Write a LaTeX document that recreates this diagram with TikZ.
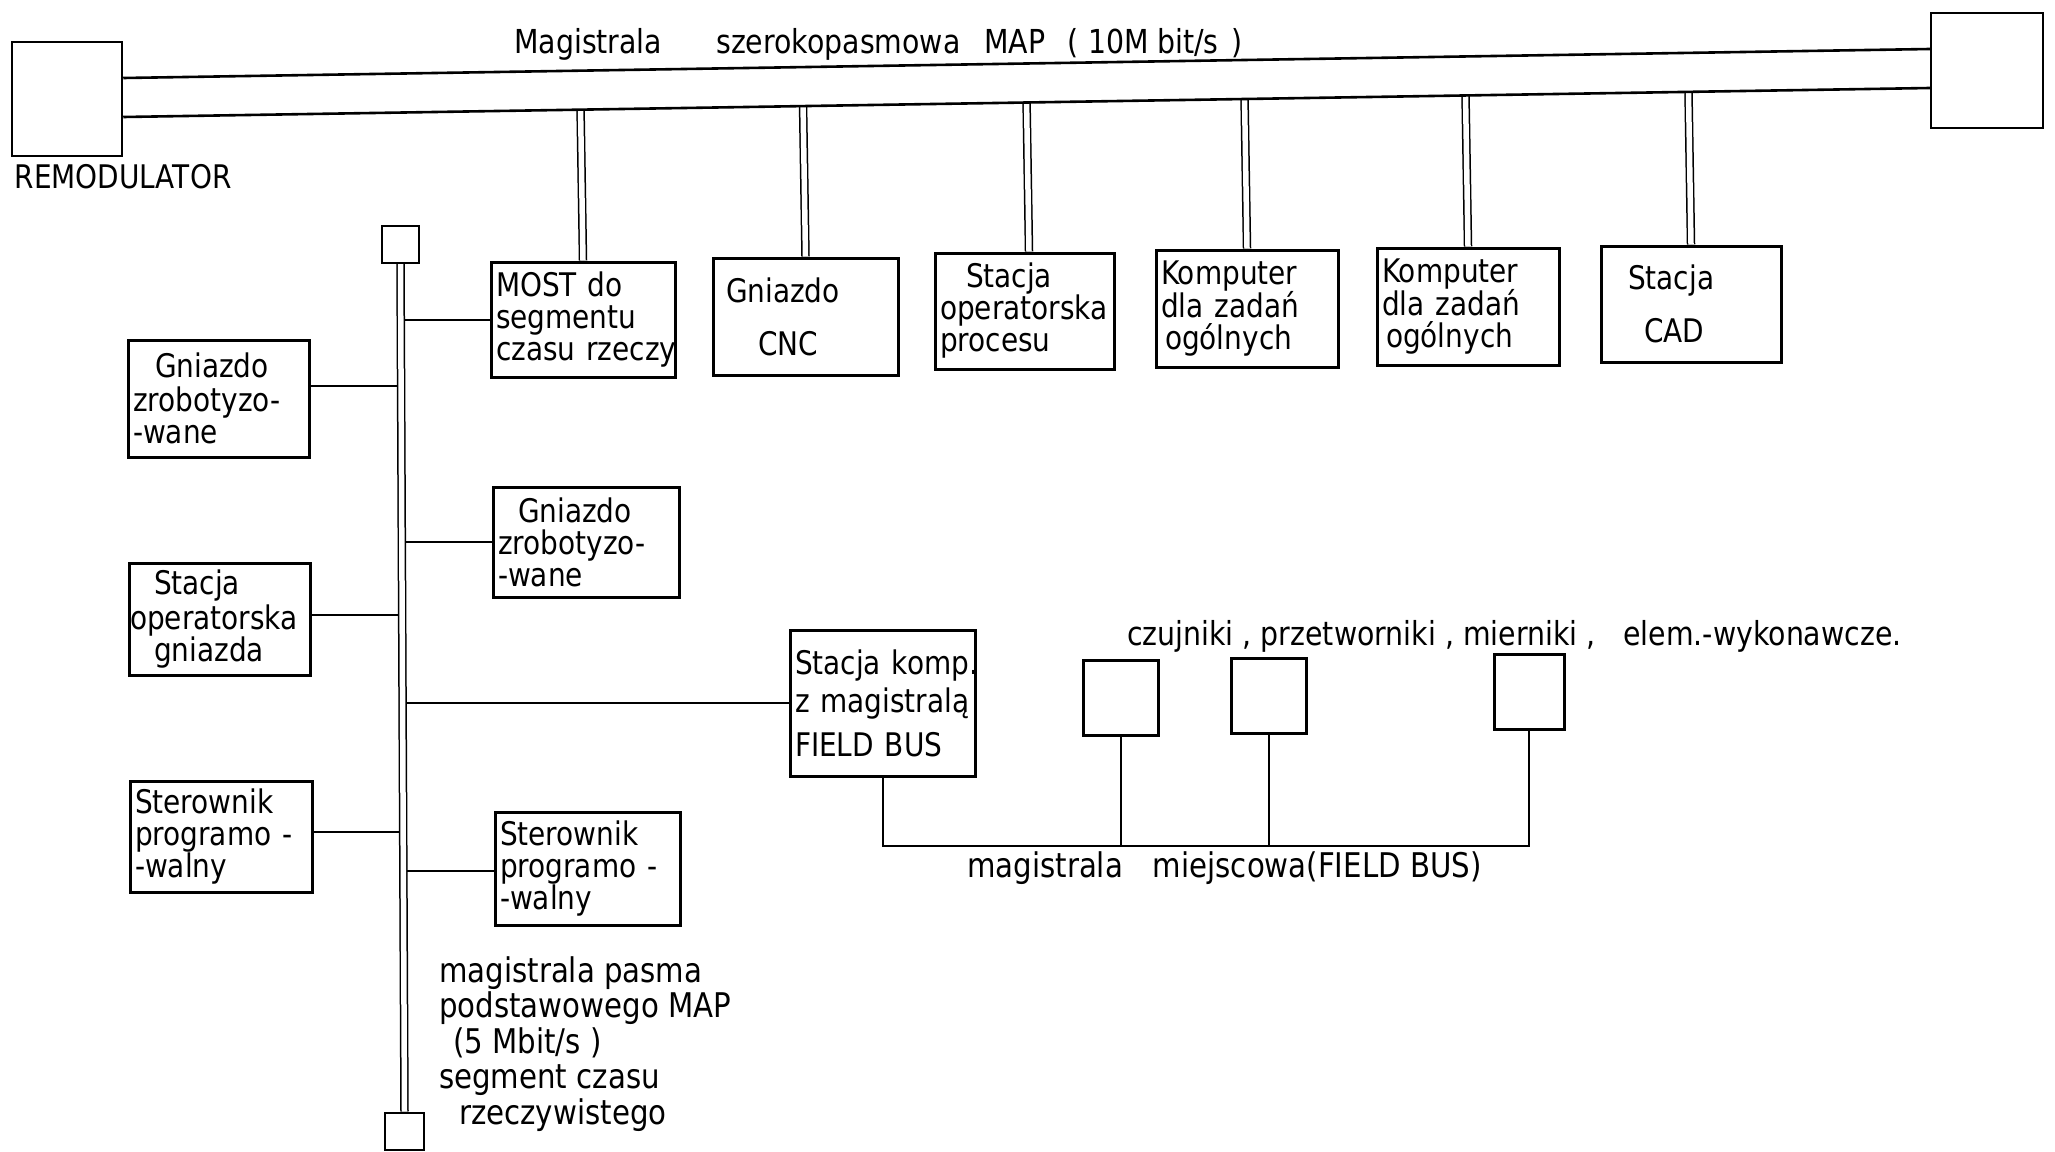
\documentclass[tikz,border=0pt]{standalone}
\usepackage{fontspec}
\setmainfont{DejaVu Sans}[FakeStretch=0.86]
\usetikzlibrary{calc,backgrounds}
\newcommand\dfont{\fontsize{32.5}{32}\selectfont}
\newcommand\lfont{\fontsize{33}{34}\selectfont}
\newcommand\bfontx{\fontsize{34}{35.5}\selectfont}
\tikzset{
 box/.style={draw, line width=3pt, inner sep=5pt, font=\dfont, align=left},
 conn/.style={line width=2pt},
 bus/.style={line width=2.6pt},
 dbl/.style={double, double distance=5.5pt, line width=1.5pt},
 lbl/.style={font=\lfont, inner sep=0pt},
}
\begin{document}
\begin{tikzpicture}[x=1pt,y=-1pt]
\useasboundingbox (0,0) rectangle (2055,1151);
% top network
\node[box, minimum width=110pt, minimum height=114pt, line width=2.5pt] (remod) at (67,99) {};
\node[box, minimum width=112pt, minimum height=115pt, line width=2.5pt] (rbox) at (1987,70.5) {};
\node[box, minimum width=184pt, minimum height=115pt, text width=174pt] (most) at (583,319.5) {MOST do\\segmentu\\\mbox{czasu rzeczy}};
\node[box, minimum width=185pt, minimum height=117pt, text width=175pt] (cnc) at (805.5,316.5) {\hspace*{8pt}Gniazdo\\[21pt]\hspace*{40pt}CNC};
\node[box, minimum width=179pt, minimum height=116pt, text width=169pt] (sop) at (1024.5,311) {\hspace*{26pt}Stacja\\operatorska\\procesu};
\node[box, minimum width=182pt, minimum height=117pt, text width=172pt] (komp1) at (1247,308.5) {Komputer\\dla zadań\\\hspace*{4pt}ogólnych};
\node[box, minimum width=182pt, minimum height=117pt, text width=172pt] (komp2) at (1468,306.5) {Komputer\\dla zadań\\\hspace*{4pt}ogólnych};
\node[box, minimum width=180pt, minimum height=116pt, text width=170pt] (cad) at (1691,304) {\hspace*{22pt}Stacja\\[21pt]\hspace*{38pt}CAD};
% real-time segment
\node[box, minimum width=37pt, minimum height=37pt, line width=2pt, inner sep=0pt] (tbox) at (400.5,244.5) {};
\node[box, minimum width=39pt, minimum height=37pt, line width=2pt, inner sep=0pt] (bbox) at (404.5,1131) {};
\node[box, minimum width=181pt, minimum height=117pt, text width=171pt] (l1) at (218.5,398.5) {\hspace*{22pt}Gniazdo\\[2pt]zrobotyzo-\\-wane};
\node[box, minimum width=181pt, minimum height=112pt, text width=171pt] (l2) at (219.5,619) {\hspace*{20pt}Stacja\\[3pt]\hspace*{-4pt}operatorska\\\hspace*{20pt}gniazda};
\node[box, minimum width=182pt, minimum height=111pt, text width=172pt] (l3) at (221,836.5) {Sterownik\\programo -\\-walny};
\node[box, minimum width=186pt, minimum height=110pt, text width=176pt] (r2) at (586,542) {\hspace*{20pt}Gniazdo\\zrobotyzo-\\-wane};
\node[box, minimum width=185pt, minimum height=146pt, text width=175pt] (fb) at (882.5,703) {\mbox{Stacja komp.}\\[6pt]z magistralą\\[12pt]FIELD BUS};
\node[box, minimum width=185pt, minimum height=113pt, text width=175pt] (r4) at (587.5,868.5) {Sterownik\\programo -\\-walny};
% field devices
\node[box, minimum width=75pt, minimum height=75pt, inner sep=0pt] (s1) at (1120.5,697.5) {};
\node[box, minimum width=75pt, minimum height=75pt, inner sep=0pt] (s2) at (1268.5,695.5) {};
\node[box, minimum width=70pt, minimum height=75pt, inner sep=0pt] (s3) at (1529,691.5) {};
% labels
\node[lbl, anchor=west] (title) at (514,44) {Magistrala\hspace{54pt}szerokopasmowa\hspace{24pt}MAP\hspace{22pt}(\hspace{10pt}10M\hspace{8pt}bit/s\hspace{13pt})};
\node[lbl, font=\dfont] (remlbl) at (123,177) {REMODULATOR};
\node[lbl, anchor=west] (senslbl) at (1127,636) {czujniki , przetworniki , mierniki ,\hspace{28pt}elem.-wykonawcze.};
\node[lbl, anchor=west, font=\bfontx] (fblbl) at (967,868) {magistrala\hspace{30pt}miejscowa(FIELD BUS)};
\node[lbl, anchor=west, align=left, font=\bfontx] (seglbl) at (439,1044) {magistrala pasma\\podstawowego MAP\\\hspace*{14pt}(5 Mbit/s )\\segment czasu\\\hspace*{20pt}rzeczywistego};
\begin{scope}[on background layer]
\fill[white] (0,0) rectangle (2055,1151);
\draw[conn] ([yshift=12.5pt]l1.east) -- ([yshift=12.5pt]l1.east -| tbox.south);
\draw[conn] ([yshift=4pt]l2.east) -- ([yshift=4pt]l2.east -| tbox.south);
\draw[conn] ([yshift=4.5pt]l3.east) -- ([yshift=4.5pt]l3.east -| tbox.south);
\draw[conn] (most.west) -- (most.west -| tbox.south);
\draw[conn] (r2.west) -- (r2.west -| tbox.south);
\draw[conn] (fb.west) -- (fb.west -| tbox.south);
\draw[conn] ([yshift=-2.5pt]r4.west) -- ([yshift=-2.5pt]r4.west -| tbox.south);
\draw[dbl] (tbox.south) -- (bbox.north);
\draw[conn] (fb.south) -- ++(0,68) coordinate (fbl) -| (s3.south);
\draw[conn] (s1.south) -- (s1.south |- fbl);
\draw[conn] (s2.south) -- (s2.south |- fbl);
\coordinate (bu1) at ([yshift=21pt]remod.east);
\coordinate (bu2) at ([yshift=21.5pt]rbox.west);
\coordinate (bl1) at ([yshift=-18pt]remod.east);
\coordinate (bl2) at ([yshift=-17.5pt]rbox.west);
\foreach \n in {most,cnc,komp1,komp2,cad} \draw[dbl] ($(bl1)!(\n.north)!(bl2)$) -- (\n.north);
\draw[dbl] ($(bl1)!([xshift=4.5pt]sop.north)!(bl2)$) -- ([xshift=4.5pt]sop.north);
\draw[bus] (bu1) -- (bu2);
\draw[bus] (bl1) -- (bl2);
\end{scope}
\end{tikzpicture}
\end{document}
